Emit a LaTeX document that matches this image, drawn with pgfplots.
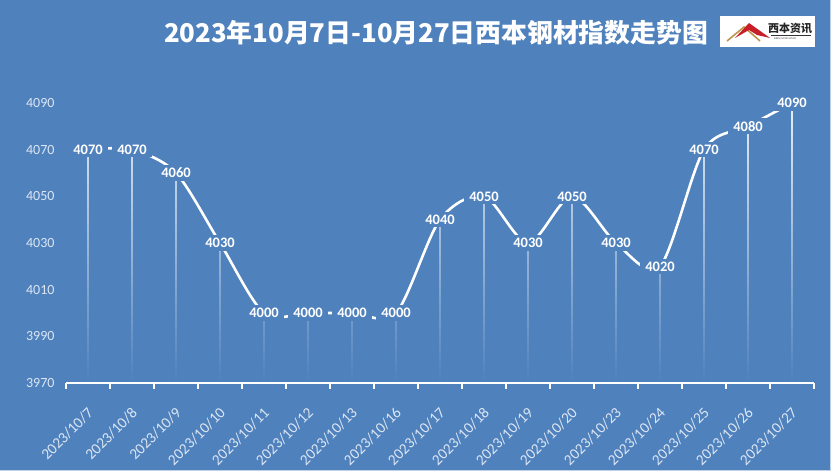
\documentclass[border=0pt]{standalone}
\usepackage{fontspec}
\setmainfont{Carlito}
\newfontfamily\cjk{Noto Sans CJK SC}
\usepackage{pgfplots}
\pgfplotsset{compat=1.18}
\usepackage{pgfplotstable}
\usetikzlibrary{fadings}
\definecolor{bg}{RGB}{79,129,189}
\definecolor{ticklab}{RGB}{220,230,243}
\definecolor{logored}{RGB}{200,30,40}
\definecolor{logogold}{RGB}{190,150,80}
\tikzfading[name=fadeup, top color=transparent!100, bottom color=transparent!0]

\pgfplotstableread{
x y
0 4070
1 4070
2 4060
3 4030
4 4000
5 4000
6 4000
7 4000
8 4040
9 4050
10 4030
11 4050
12 4030
13 4020
14 4070
15 4080
16 4090
}\data

\begin{document}
\begin{tikzpicture}[x=1bp,y=1bp]
\fill[bg] (0,0) rectangle (831,471);
\useasboundingbox (0,0) rectangle (831,471);
\draw[color=ticklab!80!bg, line width=1bp] (0,0.5) -- (830.5,0.5) -- (830.5,471);
% title
\node[text=white, font=\cjk\bfseries\fontsize{25.8bp}{30bp}\selectfont] at (436,438) {2023年10月7日-10月27日西本钢材指数走势图};
% logo
\fill[white] (720,424) rectangle (815,455);
\draw[logogold, line width=1.6bp, line join=miter] (727,430) -- (744,444) -- (760,430);
\fill[logored] (735,433) -- (749,448) -- (770,433) -- (757,436) -- (749,441) -- cycle;
\node[font=\cjk\bfseries\fontsize{11bp}{12bp}\selectfont, text=black!85, inner sep=0pt] at (790,443) {西本资讯};
\draw[black!80, line width=0.7bp] (771,435.5) -- (811,435.5);
\node[font=\fontsize{2.6bp}{3bp}\selectfont, text=black!70, inner sep=0pt] at (785,432) {XIBEN INFORMATION};
\begin{axis}[
  at={(66bp,88bp)}, anchor=south west,
  scale only axis, width=748bp, height=280bp,
  xmin=-0.5, xmax=16.5, ymin=3970, ymax=4090,
  clip=false, axis on top,
  axis x line*=bottom, axis y line*=left,
  y axis line style={draw=none},
  x axis line style={-, white, line width=1.8bp},
  ytick={3970,3990,4010,4030,4050,4070,4090},
  yticklabels={3970,3990,4010,4030,4050,4070,4090},
  ytick style={draw=none},
  xtick={0,...,16},
  xticklabels={2023/10/7,2023/10/8,2023/10/9,2023/10/10,2023/10/11,2023/10/12,2023/10/13,2023/10/16,2023/10/17,2023/10/18,2023/10/19,2023/10/20,2023/10/23,2023/10/24,2023/10/25,2023/10/26,2023/10/27},
  major tick length=0pt,
  minor xtick={-0.5,0.5,...,16.5},
  minor tick length=6bp,
  tick align=outside,
  minor x tick style={white, line width=1.4bp},
  yticklabel style={font=\fontsize{14bp}{16bp}\selectfont, text=ticklab, xshift=-8bp},
  xticklabel style={font=\fontsize{15.3bp}{17bp}\selectfont, text=ticklab, xshift=5bp, yshift=-25bp, rotate=45, anchor=east},
]
% drop lines
\addplot[draw=none, mark=none, forget plot,
  error bars/.cd, y dir=minus, y explicit, error mark=none,
  error bar style={draw=white, opacity=0.9, line width=1.3bp}]
  table[x=x, y=y, y error expr=\thisrow{y}-3970] {\data};
% fade overlay
\fill[bg, path fading=fadeup] (axis cs:-0.5,3970) rectangle (axis cs:16.5,4092);
% smooth line
\addplot[white, line width=2.6bp, smooth, tension=0.5, mark=none] table[x=x, y=y] {\data};
% labels
\addplot[draw=none, mark=none, point meta=explicit symbolic,
  nodes near coords, nodes near coords align={center},
  every node near coord/.style={anchor=center, fill=bg, text=white, inner xsep=5bp, inner ysep=3bp, font=\bfseries\fontsize{14.5bp}{16bp}\selectfont}]
  table[x=x, y=y, meta=y] {\data};
\end{axis}
\end{tikzpicture}
\end{document}
